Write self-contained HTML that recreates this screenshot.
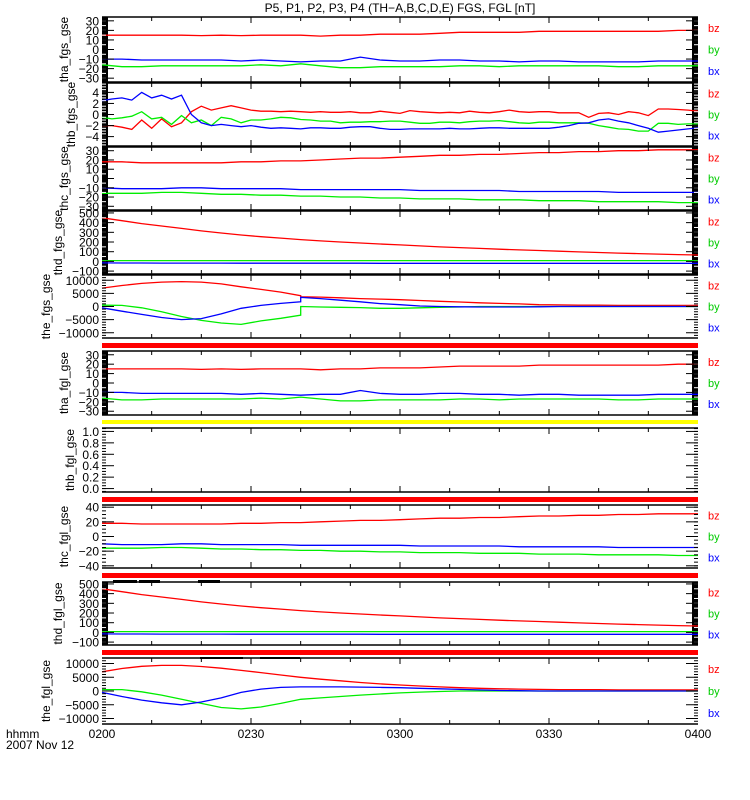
<!DOCTYPE html>
<html><head><meta charset="utf-8">
<style>
html,body{margin:0;padding:0;background:#fff;}
svg{display:block;font-family:"Liberation Sans",Arial,sans-serif;}
</style></head>
<body>
<svg id="chart" width="750" height="800" viewBox="0 0 750 800" xmlns="http://www.w3.org/2000/svg">
<text x="400" y="12" font-size="12" text-anchor="middle">P5, P1, P2, P3, P4 (TH−A,B,C,D,E) FGS, FGL [nT]</text>
<text x="6" y="738" font-size="12">hhmm</text>
<text x="6" y="749" font-size="12">2007 Nov 12</text>
<g id="panels"></g>
</svg>
<script>
// time axis (minutes after 0200)
const t4 = [0,4,8,12,16,20,24,28,32,36,40,44,48,52,56,60,64,68,72,76,80,84,88,92,96,100,104,108,112,116,120];
const t4j = [0,4,8,12,16,20,24,28,32,36,40,40,44,48,52,56,60,64,68,72,76,80,84,88,92,96,100,104,108,112,116,120];
const t2 = [0,2,4,6,8,10,12,14,16,18,20,22,24,26,28,30,32,34,36,38,40,42,44,46,48,50,52,54,56,58,60,62,64,66,68,70,72,74,76,78,80,82,84,86,88,90,92,94,96,98,100,102,104,106,108,110,112,114,116,118,120];
const xTickLabels = ["0200","0230","0300","0330","0400"];
const xTickMinutes = [0,30,60,90,120];

const thaBz = [15,15,15,15,15,14.5,15,14.5,15,15,15,14,15,15,16,16,16,17,18,18,18,18,19,19,19,19,19,19,19,20,20];
const thaBx = [-10,-10,-11,-11,-11,-11,-11,-12,-11,-12,-13,-12,-12,-8,-11,-12,-12,-11,-11,-12,-12,-13,-12,-12,-13,-13,-13,-13,-12,-12,-12];
const thaBy = [-16,-18,-18,-17,-17,-17,-17,-17,-16,-17,-15,-17,-19,-19,-18,-18,-18,-18,-17,-17,-18,-17,-17,-17,-17,-17,-18,-18,-17,-17,-17];

const thbBz = [-2,-2,-2.3,-2.7,-1,-2.5,-0.8,-2.2,-1.5,0.5,1.5,0.8,1.2,1.6,1.2,0.8,0.6,0.6,0.5,0.6,0.5,0.4,0.5,0.4,0.4,0.5,0.3,0.3,0.6,0.4,0.2,0.7,0.5,0.4,0.3,0.4,0.3,0.6,0.4,0.3,0.5,0.8,0.5,0.4,0.5,0.5,0.3,0.3,0.3,-0.5,0.2,0.3,0,0.5,0.3,-0.2,1,1,0.9,0.8,0.6];
const thbBy = [-0.5,-0.8,-0.6,-0.3,0.5,-0.8,-0.5,-1.8,-0.2,-1.5,-1,-2,-0.5,-0.8,-1.5,-1,-1,-0.8,-0.5,-0.6,-0.9,-1,-1.2,-1.2,-1.5,-1.4,-1.4,-1.3,-1.3,-1.2,-1.2,-1.4,-1.6,-1.6,-1.4,-1.4,-1.5,-1.3,-1.2,-1.2,-1.1,-1.3,-1.5,-1.6,-1.4,-1.4,-1.5,-1.5,-1.5,-1.6,-2,-2.3,-2.6,-2.7,-3,-3,-1.6,-1.6,-1.8,-1.7,-1.7];
const thbBx = [2.5,2.8,3,2.6,4,3,3.5,2.8,3.5,0,-1.5,-2,-1.8,-2,-2.2,-2,-2.3,-2.5,-2.4,-2.5,-2.6,-2.4,-2.4,-2.5,-2.5,-2.3,-2.2,-2.2,-2.5,-2.7,-2.7,-2.6,-2.6,-2.6,-2.6,-2.5,-2.6,-2.6,-2.5,-2.4,-2.4,-2.5,-2.5,-2.5,-2.5,-2.5,-2.3,-2,-1.6,-1.5,-1,-0.8,-1.2,-1.5,-2,-2.5,-3.2,-3,-2.8,-2.6,-2.4];

const thcBz = [18,18,17,17,17,17,17,18,18,19,19,20,21,22,22,23,24,25,25,26,26,27,28,28,29,29,30,30,31,31,31];
const thcBx = [-10,-11,-11,-11,-10,-10,-11,-11,-11,-11,-12,-12,-12,-12,-12,-12,-13,-13,-13,-13,-13,-14,-14,-14,-14,-14,-15,-15,-15,-15,-15];
const thcBy = [-16,-16,-16,-15,-15,-16,-17,-17,-18,-18,-19,-19,-20,-20,-21,-21,-22,-22,-22,-23,-23,-23,-24,-24,-24,-25,-25,-25,-25,-26,-26];

const thdBz = [450,420,390,365,340,315,293,272,255,240,225,212,200,190,180,170,160,150,142,134,126,119,112,105,98,92,86,80,75,70,66];
const thdBy = [8,8,8,8,8,8,8,8,8,8,8,8,8,8,8,8,8,8,8,8,8,8,8,8,8,8,8,8,8,8,8];
const thdBx = [-15,-16,-17,-18,-18,-18,-18,-19,-19,-19,-19,-19,-19,-19,-20,-20,-20,-20,-20,-20,-20,-20,-20,-20,-20,-20,-20,-20,-20,-20,-20];

const theBzS = [7000,8000,8800,9300,9500,9300,8600,7500,6500,5500,4100,3700,3600,3300,3000,2800,2600,2300,2000,1700,1400,1200,1000,700,600,500,500,400,400,400,400,400];
const theBxS = [-500,-1800,-3000,-4200,-5000,-4600,-2800,-700,400,1200,1800,3500,3000,2400,1800,1100,700,200,0,-100,-200,-200,-200,-100,0,0,0,0,0,0,0,0];
const theByS = [500,400,-500,-2000,-3800,-5300,-6300,-6800,-5500,-4500,-3300,0,-200,-300,-400,-700,-700,-500,-300,-200,0,0,0,0,0,0,0,0,0,0,0,0];

const theBzL = [7000,8200,9000,9300,9300,8900,8300,7500,6700,5800,5000,4300,3700,3100,2600,2200,1800,1500,1200,1000,800,700,600,500,500,500,400,400,400,400,400];
const theBxL = [-500,-2000,-3300,-4300,-5000,-4000,-2500,-500,700,1300,1500,1500,1500,1400,1300,1200,1000,800,600,400,200,100,0,0,0,0,0,0,0,0,0];
const theByL = [500,500,-300,-1500,-3000,-4500,-6000,-6500,-5800,-4500,-3000,-2500,-2000,-1500,-1100,-700,-400,-200,0,0,0,0,0,0,0,0,0,0,0,0,0];

const tickSet30 = [30,20,10,0,-10,-20,-30];
const tickSet5 = [4,2,0,-2,-4];
const tickSet500 = [500,400,300,200,100,0,-100];
const tickSet1e4 = [10000,5000,0,-5000,-10000];
const tickSet1 = [1.0,0.8,0.6,0.4,0.2,0.0];
const tickSet40 = [40,20,0,-20,-40];

const X0 = 102, X1 = 698;
const NS = "http://www.w3.org/2000/svg";
const root = document.getElementById('panels');
function xs(m){ return X0 + (X1 - X0) * m / 120; }
function mk(tag, attrs, parent){
  const e = document.createElementNS(NS, tag);
  for (const k in attrs) e.setAttribute(k, attrs[k]);
  (parent || root).appendChild(e);
  return e;
}

const panels = [
 {name:'tha-fgs-gse', title:'tha_fgs_gse', tx:68, top:17, bot:82, lo:-34, hi:34, ticks:tickSet30, minor:5, fmt:0, bars:true, t:t4, bz:thaBz, by:thaBy, bx:thaBx},
 {name:'thb-fgs-gse', title:'thb_fgs_gse', tx:75, top:83, bot:146, lo:-5.7, hi:5.7, ticks:tickSet5, minor:0.5, fmt:0, bars:true, t:t2, bz:thbBz, by:thbBy, bx:thbBx},
 {name:'thc-fgs-gse', title:'thc_fgs_gse', tx:68, top:147, bot:210, lo:-34, hi:34, ticks:tickSet30, minor:5, fmt:0, bars:true, t:t4, bz:thcBz, by:thcBy, bx:thcBx},
 {name:'thd-fgs-gse', title:'thd_fgs_gse', tx:62, top:211, bot:274, lo:-130, hi:520, ticks:tickSet500, minor:50, fmt:0, bars:true, t:t4, bz:thdBz, by:thdBy, bx:thdBx},
 {name:'the-fgs-gse', title:'the_fgs_gse', tx:50, top:275, bot:338, lo:-12000, hi:12000, ticks:tickSet1e4, minor:1000, fmt:0, bars:false, t:t4j, bz:theBzS, by:theByS, bx:theBxS},
 {name:'tha-fgl-gse', title:'tha_fgl_gse', tx:68, top:351, bot:415, lo:-34, hi:34, ticks:tickSet30, minor:5, fmt:0, bars:true, t:t4, bz:thaBz, by:thaBy, bx:thaBx},
 {name:'thb-fgl-gse', title:'thb_fgl_gse', tx:74, top:428, bot:492, lo:-0.06, hi:1.06, ticks:tickSet1, minor:0.05, fmt:1, bars:false, t:null},
 {name:'thc-fgl-gse', title:'thc_fgl_gse', tx:68, top:505, bot:568, lo:-43, hi:43, ticks:tickSet40, minor:5, fmt:0, bars:false, t:t4, bz:thcBz, by:thcBy, bx:thcBx},
 {name:'thd-fgl-gse', title:'thd_fgl_gse', tx:62, top:582, bot:645, lo:-130, hi:520, ticks:tickSet500, minor:50, fmt:0, bars:true, t:t4, bz:thdBz, by:thdBy, bx:thdBx},
 {name:'the-fgl-gse', title:'the_fgl_gse', tx:50, top:658, bot:724, lo:-12000, hi:12000, ticks:tickSet1e4, minor:1000, fmt:0, bars:false, t:t4, bz:theBzL, by:theByL, bx:theBxL}
];
const flagBars = [
 {name:'flag-bar-fgs', y:343, h:5, c:'#ff0000'},
 {name:'flag-bar-tha-fgl', y:420, h:4, c:'#ffff00'},
 {name:'flag-bar-thb-fgl', y:497, h:5, c:'#ff0000'},
 {name:'flag-bar-thc-fgl', y:573, h:5, c:'#ff0000'},
 {name:'flag-bar-thd-fgl', y:650, h:5, c:'#ff0000'}
];

flagBars.forEach(f => {
  const r = mk('rect', {x:X0, y:f.y, width:X1-X0, height:f.h, fill:f.c});
  
  
});

panels.forEach((p, pi) => {
  const g = mk('g', {});
  
  
  const ys = v => p.bot - (v - p.lo) / (p.hi - p.lo) * (p.bot - p.top);
  if (p.bars) {
    mk('rect', {x:X0, y:p.top, width:6, height:p.bot-p.top, fill:'#000'}, g);
    mk('rect', {x:X1-6, y:p.top, width:6, height:p.bot-p.top, fill:'#000'}, g);
  }
  if (p.t) {
    [['bz','#ff0000'],['by','#00ee00'],['bx','#0000ff']].forEach(([k,c]) => {
      const arr = p[k];
      let d = '';
      arr.forEach((v,i) => {
        const x = xs(p.t[i]).toFixed(1), y = ys(v).toFixed(1);
        d += (i === 0 ? 'M' : 'L') + x + ' ' + y;
      });
      const path = mk('path', {d:d, fill:'none', stroke:c, 'stroke-width':1.3}, g);
      
      
    });
  }
  mk('line', {x1:X0, y1:p.top, x2:X1, y2:p.top, stroke:'#000', 'stroke-width':1.5}, g);
  mk('line', {x1:X0, y1:p.bot, x2:X1, y2:p.bot, stroke:'#000', 'stroke-width':1.5}, g);
  const mstart = Math.ceil(p.lo / p.minor);
  for (let k = mstart; k * p.minor <= p.hi; k++) {
    const y = ys(k * p.minor);
    mk('line', {x1:X0, y1:y, x2:X0+4, y2:y, stroke:p.bars?'#fff':'#000', 'stroke-width':1}, g);
    mk('line', {x1:X1-4, y1:y, x2:X1, y2:y, stroke:p.bars?'#fff':'#000', 'stroke-width':1}, g);
  }
  p.ticks.forEach(v => {
    const y = ys(v);
    mk('line', {x1:X0, y1:y, x2:X0+12, y2:y, stroke:'#000', 'stroke-width':1}, g);
    mk('line', {x1:X1-12, y1:y, x2:X1, y2:y, stroke:'#000', 'stroke-width':1}, g);
    const lab = mk('text', {x:X0-3, y:y+4.5, 'font-size':12, 'text-anchor':'end'}, g);
    lab.textContent = (v < 0 ? '\u2212' : '') + Math.abs(v).toFixed(p.fmt);
    
    
  });
  for (let m = 10; m < 120; m += 10) {
    const x = xs(m), len = (m % 30 === 0) ? 6 : 4;
    mk('line', {x1:x, y1:p.top, x2:x, y2:p.top+len, stroke:'#000', 'stroke-width':1}, g);
    mk('line', {x1:x, y1:p.bot, x2:x, y2:p.bot-len, stroke:'#000', 'stroke-width':1}, g);
  }
  const cy = (p.top + p.bot) / 2;
  const tt = mk('text', {x:0, y:0, 'font-size':12, 'text-anchor':'middle', transform:'translate(' + p.tx + ',' + cy + ') rotate(-90)'}, g);
  tt.textContent = p.title;
  
  
  if (p.t) {
    [['bz','#ff0000',0.17],['by','#00cc00',0.5],['bx','#0000ff',0.83]].forEach(([k,c,f]) => {
      const l = mk('text', {x:708, y:p.top + f*(p.bot-p.top) + 4, 'font-size':11, fill:c}, g);
      l.textContent = k;
      
      
    });
  }
});

[[113,137],[139,160],[198,220]].forEach(s => {
  const r = mk('rect', {x:s[0], y:580, width:s[1]-s[0], height:3, fill:'#000'});
  
  
});
[[200,243],[260,300]].forEach(s => {
  const r = mk('rect', {x:s[0], y:657, width:s[1]-s[0], height:2, fill:'#000'});
  
  
});

xTickLabels.forEach((s,i) => {
  const l = mk('text', {x:xs(xTickMinutes[i]), y:738, 'font-size':12, 'text-anchor':'middle'});
  l.textContent = s;
  
  
});
</script>
</body></html>
